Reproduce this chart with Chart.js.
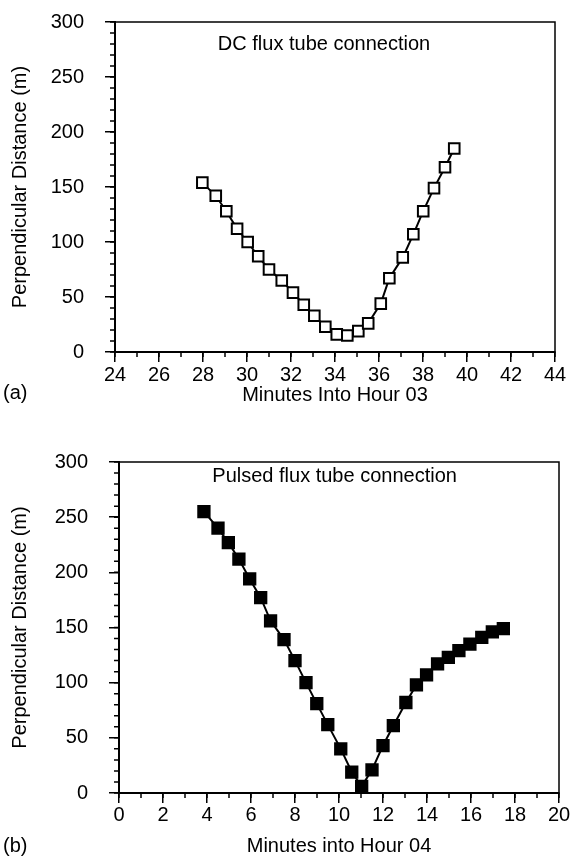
<!DOCTYPE html>
<html>
<head>
<meta charset="utf-8">
<script src="https://cdn.jsdelivr.net/npm/chart.js@4"></script>
<style>
body { margin: 0; background: #fff; }
#wrap { position: relative; width: 571px; height: 862px; }
canvas { position: absolute; left: 0; }
#chartA { top: 0; }
#chartB { top: 431px; }
.tag { position: absolute; left: 3px; font: 20px 'Liberation Sans', Arial, sans-serif; color: #000; }
</style>
</head>
<body>
<div id="wrap">
  <canvas id="chartA" width="571" height="431"></canvas>
  <canvas id="chartB" width="571" height="431"></canvas>
  <div class="tag" style="top:381px">(a)</div>
  <div class="tag" style="top:834px">(b)</div>
</div>
<script>
// (a) DC flux tube connection, minutes into hour 03
var dcMinutes  = [27.97, 28.58, 29.06, 29.55, 30.03, 30.51, 31.0, 31.58, 32.09, 32.58, 33.06, 33.56,
                  34.08, 34.56, 35.06, 35.51, 36.08, 36.47, 37.08, 37.56, 38.01, 38.5, 39.0, 39.42];
var dcDistance = [154, 142, 128, 112, 100, 87, 75, 65, 54, 43, 33, 23,
                  16, 15, 19, 26, 44, 67, 86, 107, 128, 149, 168, 185];

// (b) Pulsed flux tube connection, minutes into hour 04
var pulsedMinutes  = [3.86, 4.5, 4.97, 5.45, 5.94, 6.44, 6.89, 7.5, 8.0, 8.5, 8.99, 9.49, 10.08, 10.58,
                      11.03, 11.5, 12.0, 12.47, 13.04, 13.52, 13.98, 14.48, 14.97, 15.45, 15.95, 16.49, 16.97, 17.47];
var pulsedDistance = [255, 240, 227, 212, 194, 177, 156, 139, 120, 100, 81, 62, 40, 19,
                      6, 21, 43, 61, 82, 98, 107, 117, 123, 129, 135, 141, 146, 149];

var dcRange = [24, 44];
var pulsedRange = [0, 20];
var distRange = [0, 300];

var FONT = "'Liberation Sans', Arial, sans-serif";
Chart.defaults.font.family = FONT;
Chart.defaults.font.size = 20;
Chart.defaults.color = '#000';

function toPoints(xs, ys) {
    var pts = [];
    for (var i = 0; i < xs.length; i++) pts.push({x: xs[i], y: ys[i]});
    return pts;
}

// frame box, minor ticks and the caption inside the plot
var frameAndCaption = {
    id: 'frameAndCaption',
    afterDraw: function(chart, args, opts) {
        var ctx = chart.ctx, a = chart.chartArea;
        var xs = chart.scales.x, ys = chart.scales.y;
        ctx.save();
        ctx.strokeStyle = '#000';
        ctx.lineWidth = 1.5;
        ctx.strokeRect(a.left, a.top, a.right - a.left, a.bottom - a.top);
        ctx.beginPath();
        for (var v = xs.min; v <= xs.max; v += 1) {
            var px = xs.getPixelForValue(v);
            ctx.moveTo(px, a.bottom); ctx.lineTo(px, a.bottom + 5);
        }
        for (var w = ys.min; w <= ys.max; w += 10) {
            var py = ys.getPixelForValue(w);
            ctx.moveTo(a.left - 5, py); ctx.lineTo(a.left, py);
        }
        ctx.stroke();
        ctx.fillStyle = '#000';
        ctx.font = '20px ' + FONT;
        ctx.textAlign = 'center';
        ctx.textBaseline = 'middle';
        ctx.fillText(opts.text, xs.getPixelForValue(opts.at[0]), ys.getPixelForValue(opts.at[1]));
        ctx.restore();
    }
};

function makeChart(id, xs, ys, range, xTitle, caption, captionAt, filled, box) {
    return new Chart(document.getElementById(id), {
        type: 'line',
        data: {
            datasets: [{
                data: toPoints(xs, ys),
                borderColor: '#000',
                borderWidth: 2,
                pointStyle: 'rect',
                pointRadius: filled ? 8 : 7.5,
                pointBorderWidth: 2,
                pointBorderColor: '#000',
                pointBackgroundColor: filled ? '#000' : '#fff',
                tension: 0,
                clip: false
            }]
        },
        options: {
            responsive: false,
            animation: false,
            devicePixelRatio: 1,
            layout: { padding: box.padding },
            plugins: {
                legend: { display: false },
                tooltip: { enabled: false },
                frameAndCaption: { text: caption, at: captionAt }
            },
            scales: {
                x: {
                    type: 'linear',
                    min: range[0],
                    max: range[1],
                    ticks: { stepSize: 2, padding: box.xTickPad, color: '#000' },
                    grid: { drawOnChartArea: false, color: '#000', tickLength: 10, lineWidth: 1.5 },
                    border: { color: '#000', width: 2 },
                    title: { display: true, text: xTitle, color: '#000', padding: { top: 0, bottom: 4 } },
                    afterFit: function(s) { s.height = box.xHeight; }
                },
                y: {
                    min: distRange[0],
                    max: distRange[1],
                    ticks: { stepSize: 50, padding: 21, color: '#000' },
                    grid: { drawOnChartArea: false, color: '#000', tickLength: 10, lineWidth: 1.5 },
                    border: { color: '#000', width: 2 },
                    title: { display: true, text: 'Perpendicular Distance (m)', color: '#000', padding: { top: 8, bottom: 0 } },
                    afterFit: function(s) {
                        s.width = box.yWidth;
                        s.paddingTop = 12;
                        s.paddingBottom = 12;
                    }
                }
            }
        },
        plugins: [frameAndCaption]
    });
}

makeChart('chartA', dcMinutes, dcDistance, dcRange, 'Minutes Into Hour 03',
          'DC flux tube connection', [33.5, 280], false,
          { padding: { left: 0, top: 22, right: 16, bottom: 20 }, xHeight: 59, yWidth: 115, xTickPad: 1 });

makeChart('chartB', pulsedMinutes, pulsedDistance, pulsedRange, 'Minutes into Hour 04',
          'Pulsed flux tube connection', [9.8, 287], true,
          { padding: { left: 0, top: 31, right: 12, bottom: 0 }, xHeight: 69, yWidth: 119, xTickPad: 0 });
</script>
</body>
</html>
